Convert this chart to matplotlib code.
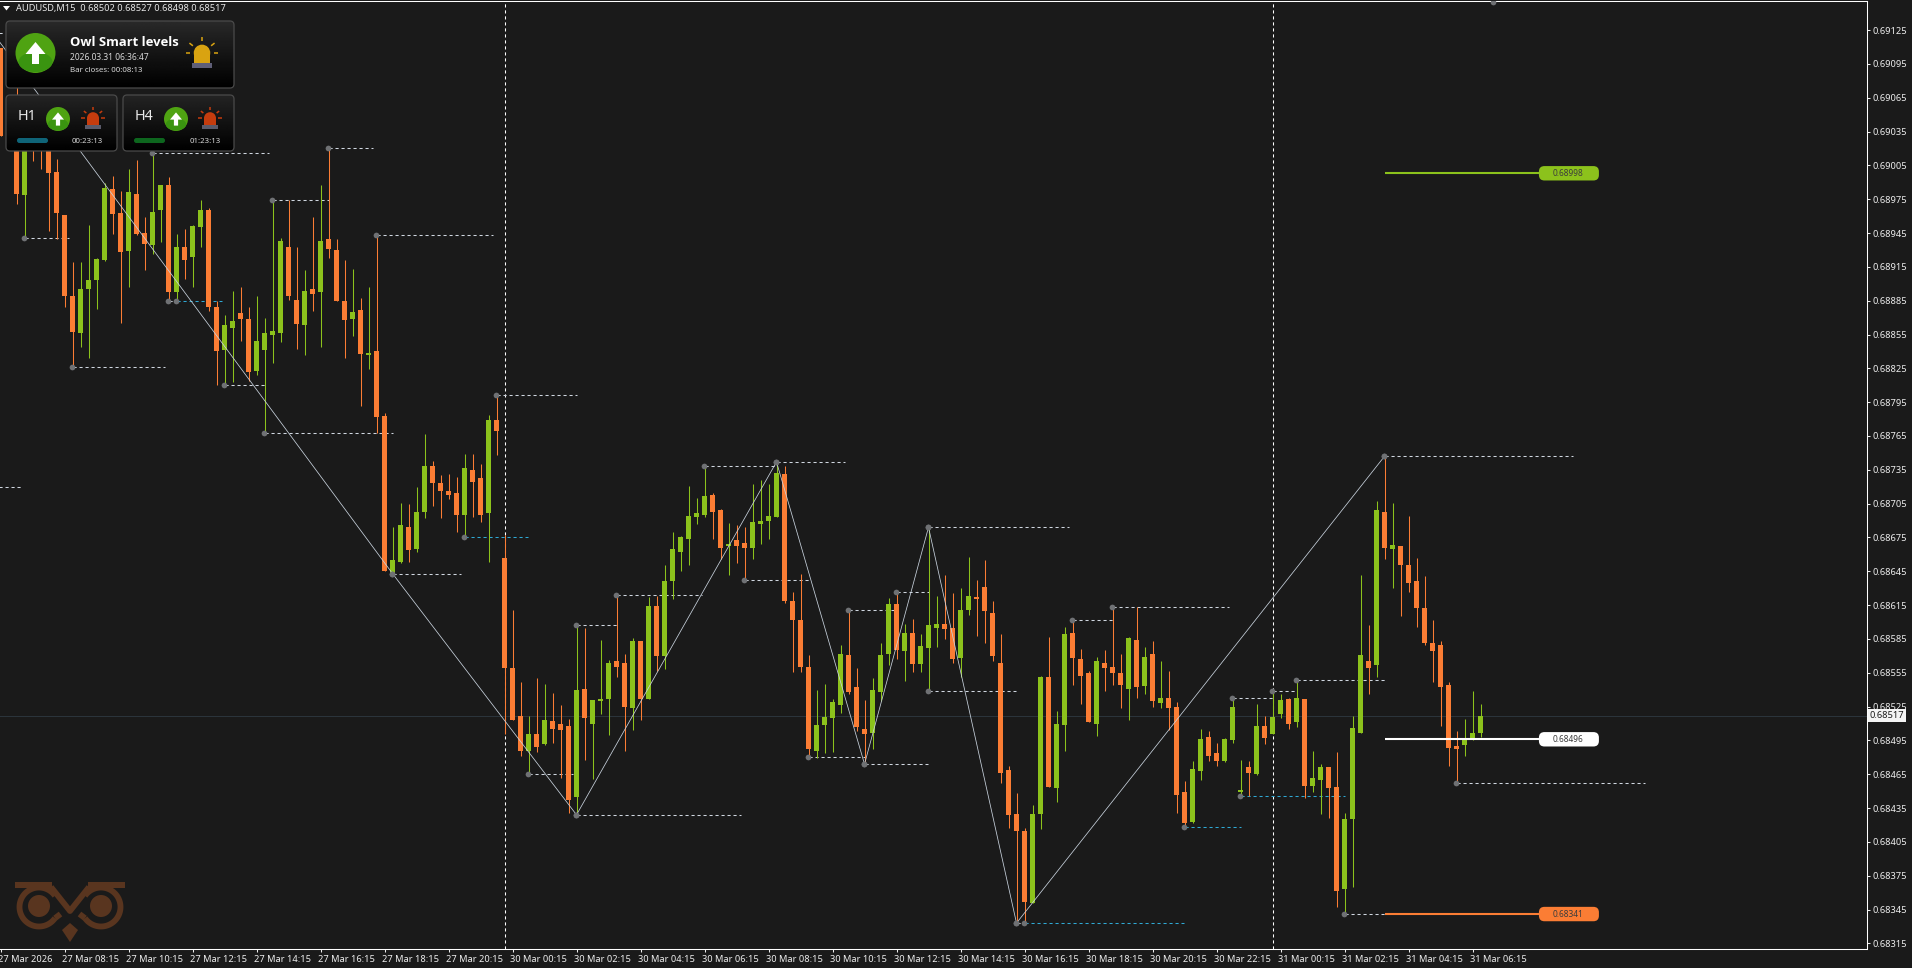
import numpy as np
import matplotlib
matplotlib.use("Agg")
import matplotlib.pyplot as plt
from matplotlib.patches import Circle, Ellipse, FancyBboxPatch, Polygon, Rectangle
from matplotlib.transforms import ScaledTranslation

plt.rcParams['font.family'] = ['Noto Sans', 'DejaVu Sans']

BG = '#1a1a1a'
BULL = '#8cc21c'
BEAR = '#fb7d34'
LEVEL = '#d0d7e0'
LEVEL_BLUE = '#2fa9d4'
DOT = '#6f7174'
DASH = (0, (3, 2.76))

# candle values, price x 100000, one entry per M15 bar
opens = [69109, 69085, 69057, 68979, 69039, 69030, 69035, 68999, 68961, 68889,
         68856, 68895, 68903, 68921, 68984, 68963, 68929, 68980, 68945, 68934,
         68965, 68988, 68893, 68933, 68924, 68950, 68965, 68879, 68841, 68861,
         68874, 68869, 68823, 68841, 68855, 68856, 68933, 68886, 68863, 68895,
         68893, 68940, 68930, 68885, 68869, 68877, 68837, 68840, 68783, 68643,
         68653, 68684, 68665, 68698, 68738, 68723, 68716, 68714, 68695, 68735,
         68728, 68697, 68779, 68657, 68559, 68517, 68486, 68501, 68492, 68512,
         68510, 68508, 68445, 68541, 68510, 68530, 68532, 68565, 68564, 68524,
         68583, 68532, 68614, 68570, 68636, 68662, 68674, 68693, 68695, 68713,
         68699, 68667, 68673, 68670, 68666, 68687, 68690, 68693, 68731, 68619,
         68602, 68560, 68486, 68509, 68515, 68526, 68571, 68542, 68505, 68502,
         68538, 68572, 68616, 68574, 68590, 68563, 68577, 68595, 68598, 68595,
         68568, 68611, 68622, 68631, 68608, 68564, 68469, 68430, 68415, 68351,
         68430, 68551, 68453, 68509, 68590, 68567, 68555, 68510, 68564, 68560,
         68555, 68541, 68584, 68543, 68572, 68528, 68533, 68525, 68449, 68423,
         68468, 68498, 68484, 68477, 68495, 68449, 68471, 68465, 68508, 68501,
         68518, 68532, 68511, 68532, 68455, 68460, 68471, 68454, 68363, 68425,
         68502, 68565, 68562, 68698, 68665, 68667, 68651, 68636, 68612, 68581,
         68580, 68544, 68490, 68491, 68495, 68502]
highs = [69109, 69118, 69081, 69063, 69045, 69040, 69045, 69011, 68961, 68919,
         68919, 68952, 68923, 68989, 68996, 68982, 69002, 69010, 68959, 69016,
         68988, 68995, 68944, 68949, 68952, 68974, 68967, 68885, 68872, 68894,
         68897, 68879, 68889, 68870, 68974, 68941, 68974, 68933, 68912, 68959,
         68988, 69020, 68940, 68921, 68913, 68887, 68897, 68943, 68785, 68684,
         68706, 68705, 68720, 68767, 68743, 68730, 68731, 68729, 68749, 68749,
         68740, 68784, 68801, 68677, 68611, 68547, 68517, 68550, 68545, 68537,
         68526, 68514, 68597, 68595, 68531, 68584, 68566, 68624, 68572, 68586,
         68583, 68622, 68623, 68651, 68680, 68676, 68721, 68710, 68738, 68714,
         68700, 68688, 68686, 68684, 68722, 68726, 68722, 68742, 68738, 68627,
         68643, 68571, 68540, 68545, 68532, 68580, 68611, 68559, 68531, 68550,
         68581, 68621, 68627, 68598, 68603, 68589, 68684, 68623, 68642, 68626,
         68630, 68658, 68637, 68655, 68619, 68589, 68472, 68448, 68417, 68438,
         68552, 68587, 68521, 68596, 68602, 68576, 68557, 68569, 68575, 68613,
         68572, 68587, 68613, 68578, 68583, 68565, 68557, 68529, 68459, 68477,
         68505, 68503, 68493, 68497, 68533, 68478, 68477, 68527, 68517, 68539,
         68536, 68533, 68549, 68532, 68486, 68474, 68471, 68485, 68431, 68517,
         68642, 68597, 68707, 68747, 68706, 68667, 68694, 68657, 68641, 68602,
         68583, 68547, 68503, 68514, 68539, 68527]
lows = [69031, 69080, 68971, 68941, 69009, 69002, 68947, 68940, 68879, 68826,
        68844, 68834, 68878, 68920, 68944, 68865, 68897, 68943, 68912, 68926,
        68937, 68885, 68885, 68904, 68897, 68933, 68876, 68810, 68810, 68813,
        68849, 68814, 68819, 68768, 68830, 68848, 68886, 68842, 68837, 68876,
        68844, 68923, 68885, 68834, 68854, 68792, 68824, 68768, 68645, 68643,
        68652, 68653, 68662, 68692, 68703, 68692, 68709, 68680, 68675, 68693,
        68689, 68653, 68748, 68501, 68513, 68481, 68465, 68485, 68491, 68493,
        68462, 68431, 68429, 68478, 68461, 68518, 68500, 68551, 68486, 68504,
        68513, 68532, 68557, 68558, 68620, 68645, 68651, 68687, 68693, 68674,
        68656, 68642, 68652, 68637, 68656, 68669, 68674, 68693, 68617, 68556,
        68556, 68480, 68479, 68484, 68485, 68519, 68536, 68503, 68474, 68487,
        68530, 68562, 68567, 68548, 68556, 68556, 68539, 68578, 68585, 68564,
        68551, 68606, 68588, 68581, 68565, 68457, 68417, 68333, 68333, 68351,
        68416, 68454, 68440, 68486, 68544, 68527, 68511, 68499, 68539, 68544,
        68524, 68513, 68533, 68536, 68525, 68524, 68504, 68431, 68418, 68422,
        68460, 68477, 68472, 68476, 68493, 68446, 68446, 68464, 68492, 68501,
        68515, 68505, 68507, 68444, 68449, 68430, 68426, 68347, 68341, 68365,
        68502, 68536, 68551, 68656, 68630, 68605, 68627, 68596, 68580, 68547,
        68508, 68472, 68457, 68481, 68495, 68498]
closes = [69031, 69110, 68980, 69054, 69027, 69018, 68998, 68963, 68889, 68857,
          68895, 68903, 68922, 68985, 68962, 68928, 68981, 68944, 68935, 68964,
          68988, 68893, 68933, 68921, 68951, 68965, 68879, 68840, 68863, 68867,
          68869, 68822, 68849, 68856, 68858, 68938, 68889, 68864, 68894, 68891,
          68938, 68931, 68885, 68868, 68875, 68838, 68839, 68782, 68645, 68655,
          68686, 68664, 68698, 68738, 68723, 68716, 68713, 68695, 68737, 68724,
          68695, 68779, 68769, 68559, 68513, 68486, 68501, 68489, 68513, 68505,
          68504, 68442, 68540, 68515, 68531, 68532, 68564, 68560, 68525, 68583,
          68532, 68614, 68570, 68636, 68665, 68675, 68694, 68697, 68712, 68698,
          68666, 68669, 68667, 68666, 68689, 68690, 68694, 68732, 68619, 68602,
          68560, 68487, 68509, 68516, 68529, 68572, 68538, 68507, 68501, 68540,
          68571, 68616, 68575, 68590, 68563, 68579, 68597, 68598, 68594, 68567,
          68611, 68623, 68620, 68610, 68570, 68466, 68429, 68415, 68352, 68430,
          68551, 68454, 68510, 68589, 68568, 68552, 68511, 68565, 68559, 68555,
          68544, 68586, 68542, 68569, 68530, 68533, 68524, 68447, 68422, 68470,
          68496, 68481, 68477, 68496, 68525, 68451, 68466, 68508, 68497, 68516,
          68531, 68510, 68533, 68455, 68462, 68471, 68453, 68361, 68425, 68506,
          68571, 68559, 68699, 68666, 68668, 68651, 68635, 68612, 68581, 68574,
          68542, 68488, 68487, 68495, 68502, 68517]

# zigzag turning points: bar number and price x 100000
zigzag_bars = [-1, 49, 72, 97, 108, 116, 127, 173]
zigzag_prices = [69123, 68643, 68429, 68742, 68474, 68684, 68333, 68747]

# swing levels: first bar, last bar, price x 100000
level_starts = [3, 19, 34, 41, 47, 9, 21, 28, 33, 62, 49, 66, 72, 72, 77, 88, 97,
                93, 101, 108, 106, 112, 116, 116, 127, 134, 139, 154, 159, 162,
                173, 168, 182]
level_ends = [8.5, 33.6, 41, 46.5, 61.6, 20.6, 22, 33, 49, 72, 57.6, 71.6, 92.6,
              77, 87.7, 97, 105.5, 101, 108, 115.9, 112, 116, 133.6, 126.9, 128,
              139, 153.6, 159, 162, 173, 196.6, 173, 205.6]
level_prices = [68941, 69016, 68974, 69020, 68943, 68826, 68885, 68810, 68768,
                68801, 68643, 68465, 68429, 68597, 68624, 68738, 68742, 68637,
                68480, 68474, 68611, 68627, 68684, 68539, 68333, 68602, 68613,
                68533, 68539, 68549, 68747, 68341, 68457]

blue_starts = [22, 58, 128, 148, 155]
blue_ends = [27.7, 65.9, 147.9, 155, 168]
blue_prices = [68885, 68675, 68333, 68418, 68446]

# leftovers of older levels at the left edge, no dot on screen
edge_ends = [2.6, 0.4]
edge_prices = [68720, 69122]

# a swing dot cut off by the top of the chart
top_dot_bar = 186.6
top_dot_price = 69150

# smart level targets
target_prices = [68998, 68496, 68341]
target_labels = ['0.68998', '0.68496', '0.68341']
target_colors = [BULL, '#ffffff', BEAR]
target_start = 173

current_price = 68517
separators = [63, 159]

y_ticks = [68315 + 30 * i for i in range(28)]
time_labels = ['27 Mar 2026', '27 Mar 08:15', '27 Mar 10:15', '27 Mar 12:15',
               '27 Mar 14:15', '27 Mar 16:15', '27 Mar 18:15', '27 Mar 20:15',
               '30 Mar 00:15', '30 Mar 02:15', '30 Mar 04:15', '30 Mar 06:15',
               '30 Mar 08:15', '30 Mar 10:15', '30 Mar 12:15', '30 Mar 14:15',
               '30 Mar 16:15', '30 Mar 18:15', '30 Mar 20:15', '30 Mar 22:15',
               '31 Mar 00:15', '31 Mar 02:15', '31 Mar 04:15', '31 Mar 06:15']


def pts(values):
    return np.array(values) / 1e5


def draw_candles(ax):
    o, h, l, c = pts(opens), pts(highs), pts(lows), pts(closes)
    bars = np.arange(len(o))
    colors = [BULL if c[i] >= o[i] else BEAR for i in bars]
    ax.vlines(bars, l, h, colors=colors, linewidth=0.75, zorder=3)
    ax.bar(bars, np.abs(c - o), bottom=np.minimum(o, c), width=0.625, color=colors,
           linewidth=0, zorder=3.1)


def draw_levels(ax):
    ax.plot(zigzag_bars, pts(zigzag_prices), color='#c9d3de', lw=0.55, zorder=4)
    ax.hlines(pts(level_prices), level_starts, level_ends, colors=LEVEL, lw=0.75,
              linestyles=DASH, zorder=2)
    ax.hlines(pts(blue_prices), blue_starts, blue_ends, colors=LEVEL_BLUE, lw=0.75,
              linestyles=DASH, zorder=2)
    ax.hlines(pts(edge_prices), -1, edge_ends, colors=LEVEL, lw=0.75,
              linestyles=DASH, zorder=2)
    dot_x = np.array(level_starts + blue_starts + [top_dot_bar]) - 0.1
    dot_y = pts(level_prices + blue_prices + [top_dot_price])
    ax.scatter(dot_x, dot_y, s=17, color=DOT, linewidths=0, zorder=5)
    ax.scatter(np.array(zigzag_bars[1:]) - 0.1, pts(zigzag_prices[1:]), s=17, color=DOT,
               linewidths=0, zorder=5)


def rounded(ov, x0, y0, x1, y1, radius, **kw):
    patch = FancyBboxPatch((x0 + radius, y0 + radius), x1 - x0 - 2 * radius, y1 - y0 - 2 * radius,
                           boxstyle='round,pad=%s,rounding_size=%s' % (radius, radius), **kw)
    ov.add_patch(patch)
    return patch


def panel(ov, x0, y0, x1, y1, top_shade):
    box = rounded(ov, x0, y0, x1, y1, 4, facecolor='none', edgecolor='#4a4a4a', lw=0.9, zorder=12)
    grad = np.linspace(top_shade, 0, 64).reshape(-1, 1)
    img = ov.imshow(grad, extent=(x0, x1, y1, y0), cmap='gray', vmin=0, vmax=1, aspect='auto',
                    zorder=11)
    img.set_clip_path(box)


def arrow_icon(ov, cx, cy, r):
    ov.add_patch(Circle((cx, cy), r, facecolor='#4fa312', edgecolor='none', zorder=13))
    ov.add_patch(Ellipse((cx, cy + r * 0.45), r * 1.7, r * 1.0, facecolor='#3a9410',
                         edgecolor='none', zorder=13))
    s = r / 20.0
    arrow = [(0, -11), (10, 1), (3.5, 1), (3.5, 11), (-3.5, 11), (-3.5, 1), (-10, 1)]
    ov.add_patch(Polygon([(cx + a * s, cy + b * s) for a, b in arrow], facecolor='white',
                         edgecolor='none', zorder=14))


def siren(ov, cx, cy, s, color, base):
    # s = half width of the dome
    ov.add_patch(Ellipse((cx, cy - 0.1 * s), 1.5 * s, 1.5 * s, facecolor=color, edgecolor='none', zorder=13))
    ov.add_patch(Rectangle((cx - 0.75 * s, cy - 0.1 * s), 1.5 * s, 0.95 * s, facecolor=color,
                           edgecolor='none', zorder=13))
    ov.add_patch(Rectangle((cx - 0.95 * s, cy + 0.8 * s), 1.9 * s, 0.45 * s, facecolor=base,
                           edgecolor='none', zorder=13))
    for angle in [0, 38, 90, 142, 180]:
        a = np.radians(angle)
        ov.plot([cx + np.cos(a) * s * 1.05, cx + np.cos(a) * s * 1.45],
                [cy - 0.1 * s - np.sin(a) * s * 1.05, cy - 0.1 * s - np.sin(a) * s * 1.45],
                color=color, lw=1.1, zorder=13, solid_capstyle='butt')


def draw_panels(ov):
    ov.add_patch(Polygon([(3, 6), (10, 6), (6.5, 10.5)], facecolor='white', edgecolor='none', zorder=13))
    ov.text(16, 8.5, 'AUDUSD,M15  0.68502 0.68527 0.68498 0.68517', color='#e6e6e6', fontsize=6.7,
            va='center', ha='left', zorder=14)

    panel(ov, 6, 21, 234, 88, 0.16)
    arrow_icon(ov, 35.5, 53, 20)
    ov.text(70, 43, 'Owl Smart levels', color='white', fontsize=9.4, fontweight='bold',
            family='Open Sans', va='center', zorder=14)
    ov.text(70, 57, '2026.03.31 06:36:47', color='#d8d8d8', fontsize=6.1, va='center', zorder=14)
    ov.text(70, 70, 'Bar closes: 00:08:13', color='#d8d8d8', fontsize=5.7, va='center', zorder=14)
    siren(ov, 202, 54, 11, '#d9a311', '#5f5f78')

    panel(ov, 6, 95, 117, 151, 0.14)
    panel(ov, 123, 95, 234, 151, 0.14)
    ov.text(18, 116, 'H1', color='#e8e8e8', fontsize=10.4, va='center', zorder=14)
    ov.text(135, 116, 'H4', color='#e8e8e8', fontsize=10.4, va='center', zorder=14)
    arrow_icon(ov, 58, 119, 12)
    arrow_icon(ov, 176, 119, 12)
    siren(ov, 93, 119, 8, '#c53c0e', '#5a5a6a')
    siren(ov, 210, 119, 8, '#c53c0e', '#5a5a6a')
    rounded(ov, 17, 138, 48, 143, 2.4, facecolor='#0f6478', edgecolor='none', zorder=13)
    rounded(ov, 134, 138, 165, 143, 2.4, facecolor='#0d661e', edgecolor='none', zorder=13)
    ov.text(87, 141.5, '00:23:13', color='#d8d8d8', fontsize=5.6, va='center', ha='center', zorder=14)
    ov.text(205, 141.5, '01:23:13', color='#d8d8d8', fontsize=5.6, va='center', ha='center', zorder=14)


def draw_logo(ov):
    brown = '#59351f'
    stroke = dict(color=brown, lw=4.2, zorder=1.2, solid_capstyle='butt')
    angles = np.radians(np.arange(35, 326, 5))
    for cx, side in ((39, 1), (101, -1)):
        ov.plot(cx + side * 19.5 * np.cos(angles), 907 - 19.5 * np.sin(angles), **stroke)
        ov.add_patch(Circle((cx, 906), 11, facecolor=brown, edgecolor='none', zorder=1))
        # lower leg of the loop, stops short of the crossing
        ov.plot([cx + side * 16, cx + side * 21.5], [918.2, 914], **stroke)
    ov.plot([51, 70, 89], [887, 911, 887], **stroke)
    ov.add_patch(Rectangle((15, 882), 37, 6, facecolor=brown, edgecolor='none', zorder=1.2))
    ov.add_patch(Rectangle((88, 882), 37, 6, facecolor=brown, edgecolor='none', zorder=1.2))
    ov.add_patch(Polygon([(62, 930), (70, 923), (78, 930), (70, 942)], facecolor=brown, edgecolor='none', zorder=1.2))


def draw_targets(ax, ov):
    for price, label, color in zip(target_prices, target_labels, target_colors):
        ax.plot([target_start, 192.5], [price / 1e5, price / 1e5], color=color, lw=1.5, zorder=6,
                solid_capstyle='butt')
        x, y = ax.transData.transform((192.3, price / 1e5))
        y = 968 - y
        rounded(ov, x, y - 7.2, x + 60, y + 7.2, 5.5, facecolor=color, edgecolor='none', zorder=7)
        ov.text(x + 29.5, y, label, color='#3c3c3c', fontsize=6, ha='center', va='center', zorder=8)


def main():
    fig = plt.figure(figsize=(19.12, 9.68), dpi=100, facecolor=BG)
    ax = fig.add_axes([0, 19 / 968, 1867 / 1912, 948 / 968], facecolor=BG)
    ax.set_xlim(-0.0625, 233.31)
    ax.set_ylim(0.68310, 0.691508)

    for k in separators:
        ax.axvline(k, color='white', lw=0.75, linestyle=DASH, zorder=1)
    ax.axhline(current_price / 1e5, color='#2b343b', lw=0.75, zorder=1)

    draw_candles(ax)
    draw_levels(ax)

    ax.yaxis.tick_right()
    ax.set_yticks(pts(y_ticks))
    ax.set_yticklabels(['%.5f' % v for v in pts(y_ticks)])
    ax.set_xticks(np.arange(len(time_labels)) * 8)
    ax.set_xticklabels(time_labels, ha='left')
    ax.tick_params(axis='both', colors='#eeeeee', labelsize=6.7, length=2, width=0.75, pad=2.2)
    ax.tick_params(axis='x', pad=2.5)
    shift = ScaledTranslation(-2.5 / 100, 0, fig.dpi_scale_trans)
    for lab in ax.get_xticklabels():
        lab.set_transform(lab.get_transform() + shift)
    ax.spines['left'].set_visible(False)
    for side in ('top', 'right', 'bottom'):
        ax.spines[side].set_color('white')
        ax.spines[side].set_linewidth(0.75)

    ax.text(1.0012, current_price / 1e5, '%.5f' % (current_price / 1e5), transform=ax.get_yaxis_transform(),
            color='#1a1a1a', fontsize=6.7, va='center', ha='left', zorder=20, clip_on=False,
            bbox=dict(facecolor='#f4f4f4', edgecolor='none', pad=1.2))

    ov = fig.add_axes([0, 0, 1, 1], facecolor='none')
    ov.set_axis_off()
    draw_logo(ov)
    draw_panels(ov)
    draw_targets(ax, ov)
    ov.set_xlim(0, 1912)
    ov.set_ylim(968, 0)

    fig.savefig('out.png', dpi=100, facecolor=BG)


if __name__ == "__main__":
    main()
